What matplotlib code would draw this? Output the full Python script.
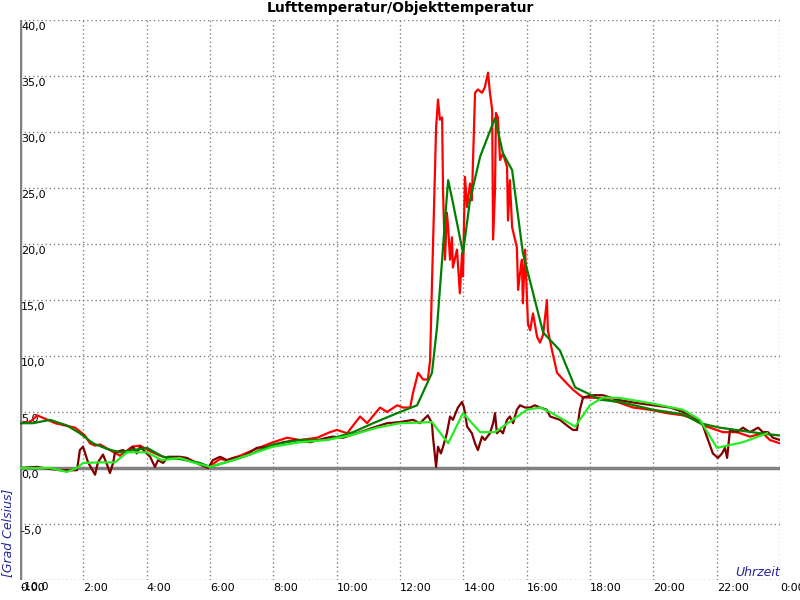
import matplotlib.pyplot as plt

# Lufttemperatur (rot) und geglaettet (dunkelgruen)
luft_t = [0, 0.32, 0.54, 0.79, 1.11, 1.42, 1.74, 2.05, 2.21, 2.37,
          2.53, 2.84, 3.16, 3.54, 3.79, 4.11, 4.42, 4.74, 5.05, 5.68,
          5.94, 6.16, 6.32, 6.54, 6.95, 7.36, 7.99, 8.43, 8.84, 9.38,
          9.79, 10.01, 10.33, 10.74, 10.96, 11.37, 11.59, 11.91, 12.09, 12.32,
          12.41, 12.57, 12.73, 12.88, 12.95, 13.01, 13.07, 13.14, 13.20, 13.26,
          13.33, 13.36, 13.42, 13.48, 13.52, 13.58, 13.64, 13.67, 13.80, 13.89,
          13.96, 13.99, 14.05, 14.12, 14.21, 14.27, 14.31, 14.37, 14.46, 14.59,
          14.68, 14.78, 14.84, 14.91, 14.94, 15.0, 15.03, 15.09, 15.16, 15.25,
          15.38, 15.41, 15.47, 15.54, 15.69, 15.73, 15.79, 15.85, 15.88, 15.95,
          16.04, 16.11, 16.20, 16.33, 16.42, 16.52, 16.64, 16.67, 16.80, 16.96,
          17.15, 17.46, 17.68, 17.78, 18.32, 18.85, 19.36, 19.89, 20.43, 20.94,
          21.38, 21.57, 21.79, 22.20, 22.64, 23.05, 23.46, 23.68, 24.0]
luft_v = [4.0, 4.1, 4.7, 4.4, 4.0, 3.8, 3.6, 2.9, 2.2, 2.0,
          2.1, 1.6, 1.1, 1.9, 2.0, 1.5, 1.1, 0.8, 0.9, 0.4,
          0.1, 0.5, 0.8, 0.7, 1.1, 1.6, 2.3, 2.7, 2.5, 2.7,
          3.2, 3.4, 3.1, 4.6, 4.0, 5.4, 5.0, 5.6, 5.4, 5.4,
          6.7, 8.5, 7.9, 7.9, 9.6, 16.5, 22.8, 30.4, 32.9, 31.1,
          31.3, 24.6, 18.6, 22.8, 21.5, 18.6, 20.6, 17.9, 19.5, 15.6,
          19.2, 17.1, 26.0, 23.3, 25.4, 23.9, 27.8, 33.5, 33.8, 33.5,
          34.0, 35.3, 33.5, 32.0, 20.4, 24.8, 31.7, 31.3, 27.5, 28.1,
          26.9, 22.1, 25.7, 21.5, 19.7, 15.9, 17.4, 18.6, 14.7, 19.5,
          12.9, 12.3, 13.8, 11.7, 11.2, 11.9, 15.0, 12.3, 10.5, 8.5,
          7.9, 7.0, 6.5, 6.3, 6.25, 5.9, 5.4, 5.2, 4.9, 4.7,
          4.3, 3.8, 3.6, 3.2, 3.2, 2.8, 3.1, 2.5, 2.2]

luft_glatt_t = [0, 0.41, 0.95, 1.48, 1.89, 2.31, 2.75, 3.16, 4.01, 4.52,
                5.05, 5.68, 6.0, 6.73, 7.26, 7.99, 8.84, 9.69, 10.52, 11.15,
                12.0, 12.54, 13.01, 13.17, 13.33, 13.42, 13.52, 13.67, 13.99, 14.21,
                14.53, 15.0, 15.25, 15.54, 15.88, 16.42, 16.52, 17.05, 17.53, 17.90,
                18.32, 18.95, 19.99, 20.94, 21.47, 22.10, 23.37, 24.0]
luft_glatt_v = [4.0, 4.0, 4.3, 3.8, 3.1, 2.2, 1.7, 1.4, 1.8, 1.0,
                0.8, 0.45, 0.1, 0.7, 1.2, 2.1, 2.5, 2.5, 3.2, 4.0,
                5.0, 5.6, 8.5, 12.6, 18.6, 22.1, 25.7, 23.7, 19.2, 23.9,
                27.8, 31.25, 28.1, 26.6, 19.2, 13.2, 12.1, 10.5, 7.2, 6.7,
                6.1, 5.9, 5.2, 4.8, 4.0, 3.6, 3.1, 2.9]

# Objekttemperatur (dunkelrot) und geglaettet (hellgruen)
obj_t = [0, 0.54, 0.73, 1.26, 1.80, 1.89, 1.99, 2.15, 2.37, 2.46,
         2.62, 2.75, 2.84, 2.94, 3.0, 3.25, 3.38, 3.57, 3.69, 3.79,
         4.11, 4.26, 4.36, 4.52, 4.67, 5.05, 5.27, 5.68, 5.94, 6.09,
         6.32, 6.54, 6.73, 7.04, 7.48, 7.80, 8.31, 8.75, 9.16, 9.69,
         9.88, 10.20, 10.74, 11.15, 11.59, 12.0, 12.41, 12.63, 12.88, 13.01,
         13.04, 13.14, 13.20, 13.29, 13.36, 13.48, 13.58, 13.67, 13.83, 13.96,
         14.02, 14.12, 14.27, 14.37, 14.46, 14.59, 14.68, 14.84, 14.94, 15.0,
         15.06, 15.16, 15.25, 15.38, 15.47, 15.57, 15.69, 15.79, 15.95, 16.11,
         16.26, 16.42, 16.64, 16.74, 17.05, 17.27, 17.46, 17.59, 17.68, 17.78,
         18.09, 18.41, 18.85, 19.48, 19.99, 20.53, 20.94, 21.25, 21.54, 21.69,
         21.88, 22.04, 22.17, 22.26, 22.33, 22.42, 22.64, 22.83, 23.05, 23.31,
         23.46, 23.62, 23.78, 24.0]
obj_v = [0.0, 0.1, 0.0, -0.2, -0.2, 1.6, 1.9, 0.5, -0.6, 0.5,
         1.2, 0.3, -0.45, 0.45, 1.4, 1.6, 1.4, 1.9, 1.3, 1.9,
         1.0, 0.1, 0.7, 0.45, 1.0, 1.0, 0.9, 0.3, 0.0, 0.7,
         1.0, 0.7, 0.9, 1.0, 1.8, 1.9, 2.3, 2.5, 2.3, 2.7,
         2.8, 2.7, 3.2, 3.6, 4.0, 4.1, 4.3, 4.0, 4.7, 4.0,
         2.8, 0.1, 1.9, 1.3, 1.9, 3.1, 4.6, 4.3, 5.4, 5.9,
         5.4, 3.7, 3.1, 2.2, 1.6, 2.8, 2.5, 3.1, 4.0, 4.9,
         3.1, 3.4, 3.1, 4.3, 4.6, 4.0, 5.2, 5.6, 5.4, 5.4,
         5.6, 5.4, 5.2, 4.6, 4.3, 3.8, 3.4, 3.4, 5.2, 6.3,
         6.5, 6.5, 6.1, 5.8, 5.6, 5.4, 5.0, 4.6, 4.0, 2.8,
         1.3, 0.9, 1.3, 1.8, 0.9, 3.4, 3.2, 3.6, 3.2, 3.6,
         3.2, 3.2, 2.7, 2.5]

obj_glatt_t = [0, 0.95, 1.48, 1.80, 1.99, 2.53, 3.0, 3.38, 4.01, 4.48,
               5.05, 5.46, 6.0, 6.73, 7.99, 8.84, 9.69, 10.42, 11.27, 12.0,
               13.01, 13.52, 13.99, 14.53, 15.0, 16.01, 16.42, 16.74, 17.53, 18.0,
               18.41, 18.95, 19.89, 20.94, 21.47, 22.01, 22.83, 23.59]
obj_glatt_v = [0.0, 0.0, -0.35, 0.0, 0.45, 0.5, 0.5, 1.4, 1.4, 0.7,
               0.9, 0.5, 0.1, 0.7, 1.9, 2.3, 2.5, 2.9, 3.6, 4.0,
               4.1, 2.2, 4.9, 3.2, 3.2, 5.2, 5.4, 5.0, 3.7, 5.6,
               6.3, 6.25, 5.8, 5.2, 4.3, 1.8, 2.3, 3.1]

x_ticks = list(range(0, 25, 2))
x_labels = ["%d:00" % (h % 24) for h in x_ticks]
y_ticks = list(range(-10, 41, 5))
y_labels = [("%.1f" % v).replace(".", ",") for v in y_ticks]

fig = plt.figure(figsize=(8, 6), dpi=100)
ax = fig.add_axes([20 / 800, 20 / 600, 760 / 800, 560 / 600])
ax.set_xlim(0, 24)
ax.set_ylim(-10, 40)

for s in ax.spines.values():
    s.set_visible(False)

ax.set_xticks(x_ticks)
ax.set_yticks(y_ticks)
ax.grid(True, linestyle=(0, (1, 2)), color="#808080", linewidth=1)
ax.tick_params(length=0, labelsize=8)
ax.set_yticklabels([])
ax.set_xticklabels(x_labels, ha="left")
ax.tick_params(axis="x", pad=2)
ax.axvline(0, color="#808080", linewidth=2.5, zorder=1)
ax.axhline(0, color="#808080", linewidth=2.5, zorder=1)

for v, lab in zip(y_ticks, y_labels):
    ax.text(0.03, v - 0.15, lab, fontsize=8, va="top", ha="left", clip_on=False)

ax.plot(luft_t, luft_v, color="#ff0000", linewidth=1.6, zorder=3)
ax.plot(obj_t, obj_v, color="#800000", linewidth=1.6, zorder=4)
ax.plot(luft_glatt_t, luft_glatt_v, color="#008000", linewidth=1.6, zorder=5)
ax.plot(obj_glatt_t, obj_glatt_v, color="#22ee22", linewidth=1.6, zorder=6)

fig.text(0.5, 1 - 8 / 600, "Lufttemperatur/Objekttemperatur", fontsize=10,
         fontweight="bold", ha="center", va="center")
fig.text(8 / 800, 1 - 577 / 600, "[Grad Celsius]", fontsize=9, style="italic",
         color="#24249c", rotation=90, ha="center", va="bottom")
fig.text(780 / 800, 1 - 572 / 600, "Uhrzeit", fontsize=9, style="italic",
         color="#24249c", ha="right", va="center")

plt.savefig("out.png")
